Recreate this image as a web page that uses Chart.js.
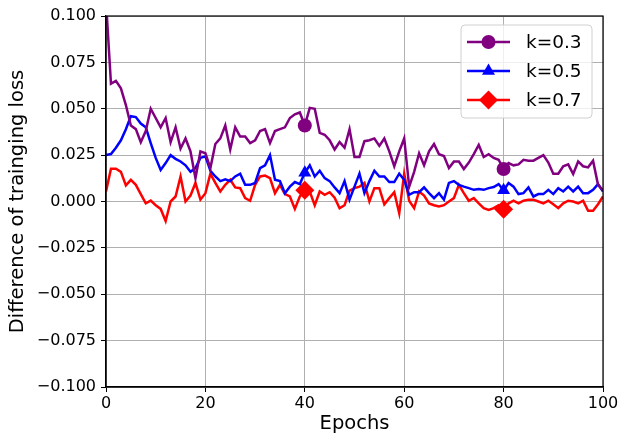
<!DOCTYPE html>
<html>
<head>
<meta charset="utf-8">
<script src="https://cdn.jsdelivr.net/npm/chart.js@4"></script>
<style>
  html, body { margin: 0; padding: 0; background: #fff; }
  #wrap { width: 627px; height: 444px; }
</style>
</head>
<body>
<div id="wrap"><canvas id="loss-chart" width="627" height="444"></canvas></div>
<script>
 // values, one per epoch 0..100
 let k03 = [0.108, 0.0635, 0.065, 0.061, 0.052, 0.041, 0.039, 0.032, 0.038, 0.050,
            0.045, 0.040, 0.045, 0.032, 0.040, 0.0285, 0.034, 0.027, 0.0126, 0.027,
            0.026, 0.018, 0.031, 0.034, 0.041, 0.028, 0.040, 0.035, 0.035, 0.0315,
            0.033, 0.038, 0.039, 0.0315, 0.038, 0.039, 0.040, 0.045, 0.047, 0.048,
            0.041, 0.0505, 0.050, 0.037, 0.036, 0.033, 0.028, 0.032, 0.029, 0.039,
            0.024, 0.024, 0.0325, 0.033, 0.034, 0.030, 0.034, 0.027, 0.019, 0.027,
            0.034, 0.008, 0.016, 0.026, 0.0195, 0.027, 0.031, 0.0255, 0.0245, 0.018,
            0.0215, 0.0215, 0.0175, 0.021, 0.0255, 0.0305, 0.024, 0.0255, 0.0235, 0.0225,
            0.0175, 0.0207, 0.0195, 0.020, 0.0225, 0.022, 0.022, 0.0235, 0.025, 0.021,
            0.015, 0.015, 0.019, 0.020, 0.0148, 0.0216, 0.019, 0.0184, 0.022, 0.009,
            0.006];
 let k05 = [0.025, 0.0256, 0.029, 0.033, 0.039, 0.046, 0.0455, 0.042, 0.040, 0.0315,
            0.0235, 0.017, 0.0207, 0.025, 0.023, 0.0216, 0.0195, 0.016, 0.018, 0.0235,
            0.0243, 0.0166, 0.0135, 0.011, 0.012, 0.011, 0.0135, 0.015, 0.009, 0.009,
            0.010, 0.018, 0.0195, 0.025, 0.0117, 0.011, 0.0045, 0.008, 0.0105, 0.0094,
            0.0155, 0.0195, 0.0135, 0.0166, 0.0126, 0.011, 0.0076, 0.0045, 0.011, 0.001,
            0.008, 0.015, 0.0045, 0.011, 0.0166, 0.0135, 0.0135, 0.0105, 0.0105, 0.015,
            0.0117, 0.0036, 0.005, 0.005, 0.0076, 0.0045, 0.0018, 0.0045, 0.001, 0.010,
            0.011, 0.009, 0.008, 0.0072, 0.0063, 0.0067, 0.0063, 0.0072, 0.0078, 0.0094,
            0.006, 0.010, 0.008, 0.004, 0.0045, 0.0076, 0.0027, 0.004, 0.004, 0.0063,
            0.004, 0.0072, 0.0054, 0.008, 0.0054, 0.008, 0.0045, 0.0045, 0.0063, 0.0094,
            0.0054];
 let k07 = [0.0054, 0.0177, 0.0177, 0.016, 0.0087, 0.0117, 0.009, 0.004, -0.001, 0.0005,
            -0.002, -0.004, -0.0105, 0.0, 0.0027, 0.0135, 0.0, 0.0032, 0.010, 0.001,
            0.0045, 0.015, 0.010, 0.0054, 0.009, 0.0117, 0.0076, 0.0072, 0.0018, 0.0004,
            0.009, 0.0135, 0.014, 0.0126, 0.0045, 0.009, 0.004, 0.0027, -0.004, 0.0027,
            0.006, 0.0054, -0.002, 0.0054, 0.0036, 0.005, 0.002, -0.0036, -0.002, 0.0058,
            0.0072, 0.008, 0.010, 0.0, 0.0072, 0.0072, -0.0015, 0.0018, 0.005, -0.0063,
            0.015, 0.0004, -0.0036, 0.0054, 0.0032, -0.001, -0.002, -0.0027, -0.002, 0.0,
            0.0018, 0.009, 0.0045, 0.0004, 0.0018, -0.001, -0.0036, -0.0045, -0.0036, -0.002,
            -0.0042, -0.001, 0.0004, -0.001, 0.0004, 0.001, 0.001, 0.0, -0.001, 0.0004,
            -0.0015, -0.0036, -0.001, 0.0004, 0.0, -0.001, 0.0004, -0.005, -0.005, -0.0015,
            0.0027];
 let seriesNames = ["k=0.3", "k=0.5", "k=0.7"];
 let seriesColors = ["#800080", "#0000ff", "#ff0000"];
 let seriesMarkers = ["circle", "triangle", "rectRot"];
 let markerSizes = [7, 7.5, 9.5];
 let markedEpochs = [40, 80];
 let xTicks = [0, 20, 40, 60, 80, 100];
 let yMin = -0.1, yMax = 0.1, yStep = 0.025;

 const fontFamily = "'DejaVu Sans', sans-serif";

 function toPoints(values) {
    return values.map((v, i) => ({ x: i, y: v }));
 }

 function makeDataset(values, i) {
    return {
        label: seriesNames[i],
        data: toPoints(values),
        borderColor: seriesColors[i],
        backgroundColor: seriesColors[i],
        borderWidth: 2.5,
        fill: false,
        tension: 0,
        pointStyle: seriesMarkers[i],
        pointBorderWidth: 0,
        pointRadius: ctx => markedEpochs.includes(ctx.raw && ctx.raw.x) ? markerSizes[i] : 0,
        pointHoverRadius: 0
    };
 }

 // black box round the plot, like matplotlib spines
 const frame = {
    id: "frame",
    afterDatasetsDraw(chart) {
        let a = chart.chartArea, ctx = chart.ctx;
        ctx.save();
        ctx.strokeStyle = "#000";
        ctx.lineWidth = 1.2;
        ctx.strokeRect(a.left, a.top, a.right - a.left, a.bottom - a.top);
        ctx.restore();
    }
 };

 // legend with line + marker in each row
 const lineLegend = {
    id: "lineLegend",
    afterDraw(chart) {
        let ctx = chart.ctx;
        let boxX = 461, boxY = 25, boxW = 131, boxH = 93;
        ctx.save();
        ctx.beginPath();
        ctx.roundRect(boxX, boxY, boxW, boxH, 4);
        ctx.fillStyle = "rgba(255,255,255,0.8)";
        ctx.fill();
        ctx.strokeStyle = "#d0d0d0";
        ctx.lineWidth = 1;
        ctx.stroke();
        let rows = [42, 71, 100];
        for (let i = 0; i < seriesNames.length; i++) {
            let y = rows[i];
            ctx.strokeStyle = seriesColors[i];
            ctx.lineWidth = 2.5;
            ctx.beginPath();
            ctx.moveTo(467, y);
            ctx.lineTo(510, y);
            ctx.stroke();
            ctx.fillStyle = seriesColors[i];
            Chart.helpers.drawPoint(ctx, { pointStyle: seriesMarkers[i], radius: markerSizes[i], borderWidth: 0 }, 488.5, y);
            ctx.fillStyle = "#000";
            ctx.font = "18.5px " + fontFamily;
            ctx.textBaseline = "middle";
            ctx.textAlign = "left";
            ctx.fillText(seriesNames[i], 526, y + 1);
        }
        ctx.restore();
    }
 };

 let lossChart = new Chart("loss-chart", {
    type: "line",
    data: {
        datasets: [makeDataset(k03, 0), makeDataset(k05, 1), makeDataset(k07, 2)]
    },
    options: {
        responsive: false,
        animation: false,
        events: [],
        layout: { padding: { left: 0, top: 16, right: 24, bottom: 0 } },
        plugins: {
            legend: { display: false },
            tooltip: { enabled: false }
        },
        scales: {
            x: {
                type: "linear",
                min: 0,
                max: 100,
                afterFit: scale => { scale.height = 57; },
                afterBuildTicks: scale => { scale.ticks = xTicks.map(v => ({ value: v })); },
                ticks: {
                    color: "#000",
                    font: { family: fontFamily, size: 16 },
                    padding: 2,
                    maxRotation: 0
                },
                grid: { color: "#b0b0b0", lineWidth: 1, tickColor: "#000", tickLength: 5 },
                border: { color: "#000", width: 1.2 },
                title: {
                    display: true,
                    text: "Epochs",
                    color: "#000",
                    font: { family: fontFamily, size: 19.5 },
                    padding: { top: 0, bottom: 8 }
                }
            },
            y: {
                min: yMin,
                max: yMax,
                afterFit: scale => { scale.width = 106; },
                ticks: {
                    stepSize: yStep,
                    color: "#000",
                    font: { family: fontFamily, size: 16 },
                    padding: 5,
                    callback: v => v.toFixed(3).replace("-", "\u2212")
                },
                grid: { color: "#b0b0b0", lineWidth: 1, tickColor: "#000", tickLength: 5 },
                border: { color: "#000", width: 1.2 },
                title: {
                    display: true,
                    text: "Difference of trainging loss",
                    color: "#000",
                    font: { family: fontFamily, size: 19.5 },
                    padding: { top: 6, bottom: 0 }
                }
            }
        }
    },
    plugins: [frame, lineLegend]
 });
</script>
</body>
</html>
